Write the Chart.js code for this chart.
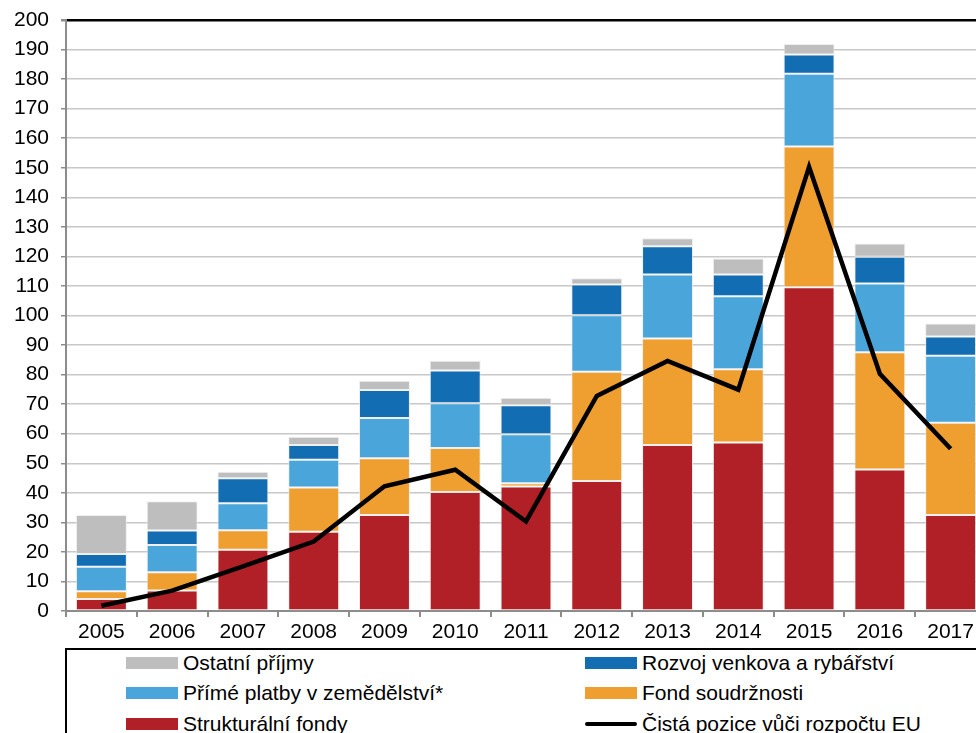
<!DOCTYPE html>
<html>
<head>
<meta charset="utf-8">
<script src="https://cdn.jsdelivr.net/npm/chart.js@4/dist/chart.umd.min.js"></script>
<style>
  html, body { margin: 0; padding: 0; background: #fff; overflow: hidden; width: 976px; height: 733px; }
  #wrap { position: absolute; left: 0; top: 0; width: 1000px; height: 648px; }
  #legend { position: absolute; left: 65px; top: 648px; width: 1000px; height: 120px; border: 2px solid #000; box-sizing: border-box; font-family: "Liberation Sans", Arial, sans-serif; font-size: 21px; color: #000; }
  .item { position: absolute; height: 24px; line-height: 24px; white-space: nowrap; }
  .sw { position: absolute; top: 6px; width: 52px; height: 12px; }
  .swl { position: absolute; top: 10px; width: 52px; height: 4px; background: #000; border-radius: 2px; }
  .lbl { position: absolute; left: 57px; top: 0; }
</style>
</head>
<body>
<div id="wrap"><canvas id="c" width="1000" height="648"></canvas></div>
<div id="legend"></div>
<script>
const years = ["2005","2006","2007","2008","2009","2010","2011","2012","2013","2014","2015","2016","2017"];
const strukturalniFondy = [4.1, 6.9, 20.7, 26.8, 32.5, 40.3, 42.1, 44.0, 56.2, 57.0, 109.6, 47.9, 32.5];
const fondSoudrznosti   = [2.6, 6.2, 6.6, 15.0, 19.2, 14.9, 1.1, 37.0, 36.0, 24.8, 47.6, 39.7, 31.2];
const primePlatby       = [8.3, 9.2, 9.2, 9.4, 13.6, 15.1, 16.6, 19.1, 21.7, 24.7, 24.6, 23.2, 22.7];
const rozvojVenkova     = [4.3, 4.9, 8.4, 5.0, 9.5, 11.1, 9.8, 10.4, 9.5, 7.4, 6.5, 9.1, 6.5];
const ostatniPrijmy     = [13.2, 9.9, 2.2, 2.8, 3.1, 3.3, 2.6, 2.1, 2.7, 5.4, 3.6, 4.5, 4.4];
const cistaPozice       = [1.8, 6.9, 15.1, 23.5, 42.2, 47.8, 30.3, 72.8, 84.6, 74.9, 150.3, 80.3, 54.9];
const yTickStep = 10;

const C = {
  struk: '#B22027', fond: '#EF9F2F', prime: '#4AA6DA', rozvoj: '#136DB3', ostatni: '#BEBEBE', line: '#000000'
};
const FONT = '"Liberation Sans", Arial, sans-serif';

function barDs(label, data, color) {
  return { type: 'bar', label, data, backgroundColor: color, borderColor: 'rgba(235,235,235,0.8)', borderWidth: 1, borderSkipped: false, stack: 'bars', order: 1, categoryPercentage: 1, barPercentage: 0.72 };
}

new Chart(document.getElementById('c'), {
  type: 'bar',
  data: {
    labels: years,
    datasets: [
      barDs('Strukturální fondy', strukturalniFondy, C.struk),
      barDs('Fond soudržnosti', fondSoudrznosti, C.fond),
      barDs('Přímé platby v zemědělství*', primePlatby, C.prime),
      barDs('Rozvoj venkova a rybářství', rozvojVenkova, C.rozvoj),
      barDs('Ostatní příjmy', ostatniPrijmy, C.ostatni),
      { type: 'line', label: 'Čistá pozice vůči rozpočtu EU', data: cistaPozice, borderColor: C.line, backgroundColor: C.line, borderWidth: 4.5, pointRadius: 0, tension: 0, stack: 'line', order: 0, borderJoinStyle: 'miter' }
    ]
  },
  options: {
    responsive: false,
    animation: false,
    devicePixelRatio: 1,
    layout: { padding: { top: 20, right: 14, left: 0, bottom: 0 } },
    plugins: { legend: { display: false }, tooltip: { enabled: false } },
    scales: {
      x: {
        stacked: true,
        offset: true,
        grid: { offset: true, drawOnChartArea: false, drawTicks: true, tickLength: 6, color: '#8c8c8c', lineWidth: 2 },
        border: { color: '#8c8c8c', width: 2 },
        ticks: { color: '#000', font: { family: FONT, size: 21 }, padding: 3, maxRotation: 0, autoSkip: false },
        afterFit: s => { s.height = 37; s.paddingLeft = 0; s.paddingRight = 0; }
      },
      y: {
        stacked: true,
        min: 0, max: 200,
        grid: {
          color: ctx => (ctx.tick && ctx.tick.value === 200) ? '#000' : '#c8c8c8',
          lineWidth: ctx => (ctx.tick && ctx.tick.value === 200) ? 2.5 : 1.5,
          tickColor: '#8c8c8c', tickLength: 5, drawTicks: true
        },
        border: { color: '#8c8c8c', width: 2 },
        ticks: { stepSize: yTickStep, color: '#000', font: { family: FONT, size: 21 }, padding: 12 },
        afterFit: s => { s.width = 66; s.paddingTop = 0; s.paddingBottom = 0; }
      }
    }
  }
});

const legendItems = [
  { label: 'Ostatní příjmy', color: C.ostatni, col: 0, row: 0 },
  { label: 'Rozvoj venkova a rybářství', color: C.rozvoj, col: 1, row: 0 },
  { label: 'Přímé platby v zemědělství*', color: C.prime, col: 0, row: 1 },
  { label: 'Fond soudržnosti', color: C.fond, col: 1, row: 1 },
  { label: 'Strukturální fondy', color: C.struk, col: 0, row: 2 },
  { label: 'Čistá pozice vůči rozpočtu EU', color: C.line, col: 1, row: 2, line: true }
];
const lg = document.getElementById('legend');
const colX = [59, 518];
const rowY = [1, 31, 62];
legendItems.forEach(it => {
  const d = document.createElement('div');
  d.className = 'item';
  d.style.left = colX[it.col] + 'px';
  d.style.top = rowY[it.row] + 'px';
  const sw = document.createElement('div');
  sw.className = it.line ? 'swl' : 'sw';
  sw.style.left = '0px';
  sw.style.background = it.color;
  const t = document.createElement('span');
  t.className = 'lbl';
  t.textContent = it.label;
  d.appendChild(sw); d.appendChild(t);
  lg.appendChild(d);
});
</script>
</body>
</html>
